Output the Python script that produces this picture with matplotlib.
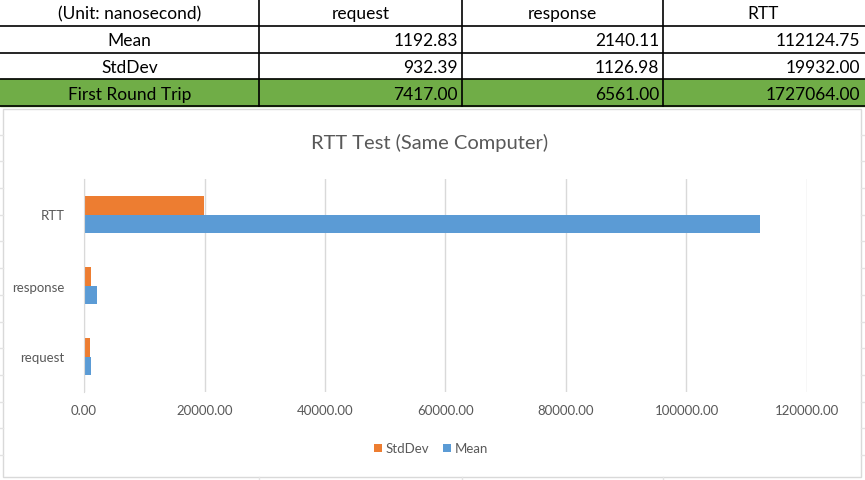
import matplotlib.pyplot as plt
from matplotlib.patches import Rectangle
import numpy as np

# datos de la tabla y del grafico
categorias = ["request", "response", "RTT"]
media = [1192.83, 2140.11, 112124.75]
desviacion = [932.39, 1126.98, 19932.00]
primer_viaje = [7417.00, 6561.00, 1727064.00]
encabezado = ["(Unit: nanosecond)"] + categorias
filas = ["Mean", "StdDev", "First Round Trip"]
ticks_x = [0, 20000, 40000, 60000, 80000, 100000, 120000]

naranja = "#ED7D31"
azul = "#5B9BD5"
verde = "#70AD47"
gris_txt = "#595959"
gris_lin = "#D9D9D9"

W, H = 865, 481
fig = plt.figure(figsize=(W / 100, H / 100), dpi=100)
plt.rcParams['font.family'] = ['Lato', 'DejaVu Sans']

# capa de fondo en pixeles (hoja de calculo)
fondo = fig.add_axes([0, 0, 1, 1])
fondo.set_xlim(0, W)
fondo.set_ylim(H, 0)
fondo.axis("off")

# lineas de la hoja que asoman por los bordes
for yy in np.arange(109 + 26.7, H, 26.7):
    fondo.plot([0, 3], [yy, yy], color="#E3E3E3", lw=1)
    fondo.plot([861, W], [yy, yy], color="#E3E3E3", lw=1)
for xx in [259, 462, 663]:
    fondo.plot([xx, xx], [478, H], color="#E3E3E3", lw=1)

# tabla
bordes_x = [0, 259, 462, 663, 864]
alto_fila = 26.8
valores = [media, desviacion, primer_viaje]
fondo.add_patch(Rectangle((0, 3 * alto_fila), W, alto_fila, color=verde, zorder=0))
for i in range(5):
    y = i * alto_fila
    fondo.plot([0, W], [y, y], color="black", lw=1.2)
for xx in bordes_x[1:4]:
    fondo.plot([xx, xx], [0, 4 * alto_fila], color="black", lw=1.2)

for j, txt in enumerate(encabezado):
    fondo.text((bordes_x[j] + bordes_x[j + 1]) / 2, alto_fila / 2 + 1, txt,
               ha="center", va="center", fontsize=12.5, color="black")
for i, nombre in enumerate(filas):
    yc = (i + 1.5) * alto_fila + 1
    fondo.text(bordes_x[1] / 2, yc, nombre, ha="center", va="center",
               fontsize=12.5, color="black")
    for j, v in enumerate(valores[i]):
        fondo.text(bordes_x[j + 2] - 4, yc, f"{v:.2f}", ha="right",
                   va="center", fontsize=12.5, color="black")

# marco del grafico
fondo.add_patch(Rectangle((3, 110), 858, 368, fill=False, ec=gris_lin, lw=1))
fondo.text(430, 143, "RTT Test (Same Computer)", ha="center", va="center",
           fontsize=14.5, color=gris_txt)

# grafico de barras
ax = fig.add_axes([84 / W, (H - 393) / H, 723 / W, 213 / H])
pos = np.arange(len(categorias))
alto = 0.254
ax.barh(pos - alto / 2, media, height=alto, color=azul, label="Mean")
ax.barh(pos + alto / 2, desviacion, height=alto, color=naranja, label="StdDev")
ax.set_xlim(0, 120000)
ax.set_ylim(-0.5, 2.5)
ax.set_xticks(ticks_x)
ax.set_xticklabels([f"{t:.2f}" for t in ticks_x])
ax.set_yticks(pos)
ax.set_yticklabels(categorias)
ax.tick_params(axis="x", length=0, pad=9, labelsize=9.5, labelcolor=gris_txt)
ax.tick_params(axis="y", length=0, pad=14, labelsize=9.5, labelcolor=gris_txt)
ax.grid(axis="x", color=gris_lin, lw=1)
ax.set_axisbelow(True)
for s in ["top", "right", "bottom"]:
    ax.spines[s].set_visible(False)
ax.spines["left"].set_color(gris_lin)

h, l = ax.get_legend_handles_labels()
ax.legend(h[::-1], l[::-1], loc="center", bbox_to_anchor=(0.480, -0.265),
          ncol=2, frameon=False, fontsize=9.5, labelcolor=gris_txt,
          handlelength=0.6, handleheight=0.6, handletextpad=0.3,
          columnspacing=1.0)

fig.savefig("out.png", dpi=100)
